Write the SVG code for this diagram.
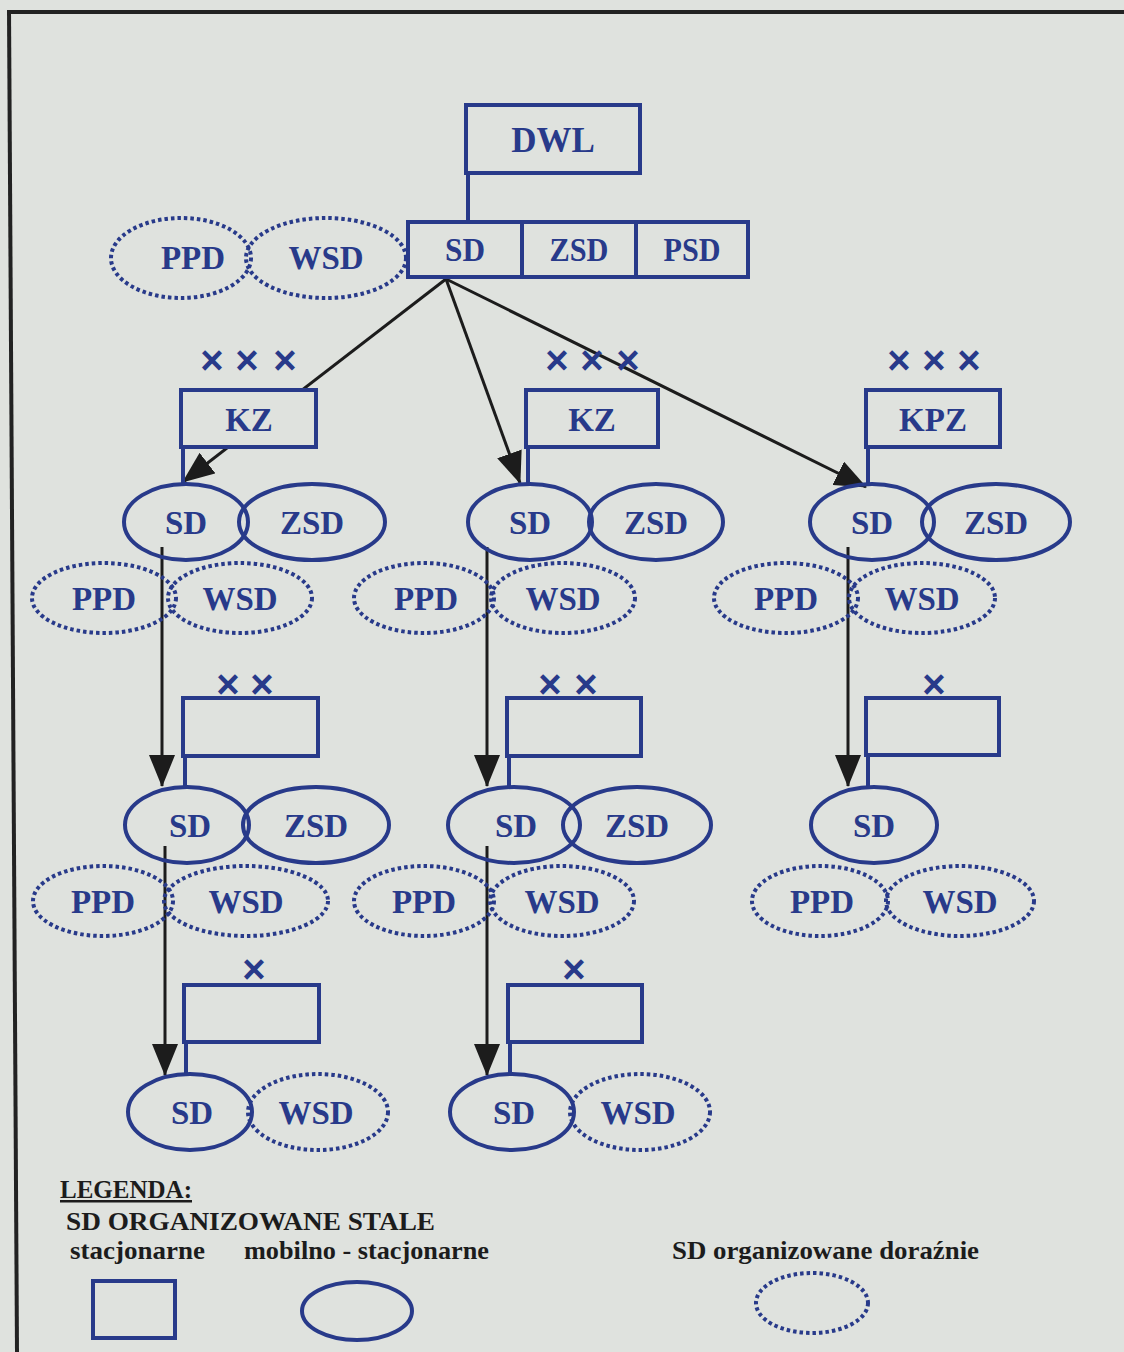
<svg xmlns="http://www.w3.org/2000/svg" width="1124" height="1352" viewBox="0 0 1124 1352">
<defs>
<marker id="ah" markerUnits="userSpaceOnUse" markerWidth="32" markerHeight="26" viewBox="0 0 32 26" refX="31" refY="13" orient="auto">
<path d="M0,0 L32,13 L0,26 Z" fill="#1c1c1c"/>
</marker>
<style>
.b{fill:none;stroke:#283a8a;stroke-width:4}
.r{fill:#dfe2de;stroke:#283a8a;stroke-width:4}
.d{fill:none;stroke:#283a8a;stroke-width:4;stroke-dasharray:3.5 3}
.t{font-family:"Liberation Serif",serif;font-weight:bold;font-size:33px;fill:#283a8a;text-anchor:middle}
.x{font-family:"Liberation Sans",sans-serif;font-weight:bold;font-size:40px;fill:#283a8a;text-anchor:middle}
.a{stroke:#1c1c1c;stroke-width:3;fill:none;marker-end:url(#ah)}
.lg{font-family:"Liberation Serif",serif;font-weight:bold;font-size:25px;fill:#1c1c1c}
</style>
</defs>
<rect x="0" y="0" width="1124" height="1352" fill="#dfe2de"/>
<g id="frame" stroke="#222" stroke-width="4" fill="none">
<line x1="7" y1="12" x2="1124" y2="12"/>
<line x1="9" y1="10" x2="17" y2="1352"/>
</g>

<g id="connectors">
<line class="a" x1="446" y1="279" x2="183" y2="482"/>
<line class="a" x1="446" y1="279" x2="520" y2="483"/>
<line class="a" x1="446" y1="279" x2="866" y2="487"/>
<line class="a" x1="162" y1="547" x2="162" y2="786"/>
<line class="a" x1="487" y1="547" x2="487" y2="786"/>
<line class="a" x1="848" y1="547" x2="848" y2="786"/>
<line class="a" x1="165" y1="846" x2="165" y2="1075"/>
<line class="a" x1="487" y1="846" x2="487" y2="1075"/>
</g>

<g id="dwl">
<rect class="r" x="466" y="105" width="174" height="68"/>
<line class="b" x1="468" y1="173" x2="468" y2="222"/>
<text class="t" x="553" y="152" style="font-size:35px">DWL</text>
</g>
<g id="top-row">
<rect class="r" x="408" y="222" width="340" height="55"/>
<line class="b" x1="522" y1="222" x2="522" y2="277"/>
<line class="b" x1="636" y1="222" x2="636" y2="277"/>
<text class="t" x="465" y="261" textLength="40" lengthAdjust="spacingAndGlyphs">SD</text>
<text class="t" x="579" y="261" textLength="59" lengthAdjust="spacingAndGlyphs">ZSD</text>
<text class="t" x="692" y="261" textLength="57" lengthAdjust="spacingAndGlyphs">PSD</text>
</g>
<g id="top-ppd">
<ellipse class="d" cx="181" cy="258" rx="70" ry="40"/>
<text class="t" x="193" y="269">PPD</text>
</g>
<g id="top-wsd">
<ellipse class="d" cx="326" cy="258" rx="80" ry="40"/>
<text class="t" x="326" y="269">WSD</text>
</g>

<g id="kz1">
<text class="x" x="212 247 285" y="374">×××</text>
<rect class="r" x="181" y="390" width="135" height="57"/>
<line class="b" x1="183" y1="447" x2="183" y2="484"/>
<text class="t" x="249" y="431">KZ</text>
<ellipse class="b" cx="186" cy="522" rx="62" ry="38"/>
<text class="t" x="186" y="534">SD</text>
<ellipse class="b" cx="312" cy="522" rx="73" ry="38"/>
<text class="t" x="312" y="534">ZSD</text>
<ellipse class="d" cx="104" cy="598" rx="72" ry="35"/>
<text class="t" x="104" y="610">PPD</text>
<ellipse class="d" cx="240" cy="598" rx="72" ry="35"/>
<text class="t" x="240" y="610">WSD</text>
</g>

<g id="kz2">
<text class="x" x="557 592 628" y="374">×××</text>
<rect class="r" x="526" y="390" width="132" height="57"/>
<line class="b" x1="528" y1="447" x2="528" y2="485"/>
<text class="t" x="592" y="431">KZ</text>
<ellipse class="b" cx="530" cy="522" rx="62" ry="38"/>
<text class="t" x="530" y="534">SD</text>
<ellipse class="b" cx="656" cy="522" rx="67" ry="38"/>
<text class="t" x="656" y="534">ZSD</text>
<ellipse class="d" cx="424" cy="598" rx="70" ry="35"/>
<text class="t" x="426" y="610">PPD</text>
<ellipse class="d" cx="563" cy="598" rx="72" ry="35"/>
<text class="t" x="563" y="610">WSD</text>
</g>

<g id="kpz">
<text class="x" x="899 934 969" y="374">×××</text>
<rect class="r" x="866" y="390" width="134" height="57"/>
<line class="b" x1="868" y1="447" x2="868" y2="486"/>
<text class="t" x="933" y="431">KPZ</text>
<ellipse class="b" cx="872" cy="522" rx="62" ry="38"/>
<text class="t" x="872" y="534">SD</text>
<ellipse class="b" cx="996" cy="522" rx="74" ry="38"/>
<text class="t" x="996" y="534">ZSD</text>
<ellipse class="d" cx="786" cy="598" rx="72" ry="35"/>
<text class="t" x="786" y="610">PPD</text>
<ellipse class="d" cx="922" cy="598" rx="73" ry="35"/>
<text class="t" x="922" y="610">WSD</text>
</g>

<g id="l3-left">
<text class="x" x="228 262" y="698">××</text>
<rect class="r" x="183" y="698" width="135" height="58"/>
<line class="b" x1="185" y1="756" x2="185" y2="787"/>
<ellipse class="b" cx="187" cy="825" rx="62" ry="38"/>
<text class="t" x="190" y="837">SD</text>
<ellipse class="b" cx="316" cy="825" rx="73" ry="38"/>
<text class="t" x="316" y="837">ZSD</text>
<ellipse class="d" cx="103" cy="901" rx="70" ry="35"/>
<text class="t" x="103" y="913">PPD</text>
<ellipse class="d" cx="246" cy="901" rx="82" ry="35"/>
<text class="t" x="246" y="913">WSD</text>
</g>

<g id="l3-mid">
<text class="x" x="550 586" y="698">××</text>
<rect class="r" x="507" y="698" width="134" height="58"/>
<line class="b" x1="509" y1="756" x2="509" y2="787"/>
<ellipse class="b" cx="514" cy="825" rx="66" ry="38"/>
<text class="t" x="516" y="837">SD</text>
<ellipse class="b" cx="637" cy="825" rx="74" ry="38"/>
<text class="t" x="637" y="837">ZSD</text>
<ellipse class="d" cx="424" cy="901" rx="70" ry="35"/>
<text class="t" x="424" y="913">PPD</text>
<ellipse class="d" cx="562" cy="901" rx="72" ry="35"/>
<text class="t" x="562" y="913">WSD</text>
</g>

<g id="l3-right">
<text class="x" x="934" y="698">×</text>
<rect class="r" x="866" y="698" width="133" height="57"/>
<line class="b" x1="868" y1="755" x2="868" y2="787"/>
<ellipse class="b" cx="874" cy="825" rx="63" ry="38"/>
<text class="t" x="874" y="837">SD</text>
<ellipse class="d" cx="820" cy="901" rx="68" ry="35"/>
<text class="t" x="822" y="913">PPD</text>
<ellipse class="d" cx="960" cy="901" rx="74" ry="35"/>
<text class="t" x="960" y="913">WSD</text>
</g>

<g id="l4-left">
<text class="x" x="254" y="983">×</text>
<rect class="r" x="184" y="985" width="135" height="57"/>
<line class="b" x1="186" y1="1042" x2="186" y2="1075"/>
<ellipse class="b" cx="190" cy="1112" rx="62" ry="38"/>
<text class="t" x="192" y="1124">SD</text>
<ellipse class="d" cx="318" cy="1112" rx="70" ry="38"/>
<text class="t" x="316" y="1124">WSD</text>
</g>

<g id="l4-mid">
<text class="x" x="574" y="983">×</text>
<rect class="r" x="508" y="985" width="134" height="57"/>
<line class="b" x1="510" y1="1042" x2="510" y2="1075"/>
<ellipse class="b" cx="512" cy="1112" rx="62" ry="38"/>
<text class="t" x="514" y="1124">SD</text>
<ellipse class="d" cx="640" cy="1112" rx="70" ry="38"/>
<text class="t" x="638" y="1124">WSD</text>
</g>

<g id="legend">
<text class="lg" x="60" y="1198" text-decoration="underline" textLength="132" lengthAdjust="spacingAndGlyphs">LEGENDA:</text>
<text class="lg" x="66" y="1230" textLength="369" lengthAdjust="spacingAndGlyphs">SD ORGANIZOWANE  STALE</text>
<text class="lg" x="70" y="1259" textLength="135" lengthAdjust="spacingAndGlyphs">stacjonarne</text>
<text class="lg" x="244" y="1259" textLength="245" lengthAdjust="spacingAndGlyphs">mobilno - stacjonarne</text>
<text class="lg" x="672" y="1259" textLength="307" lengthAdjust="spacingAndGlyphs">SD organizowane  doraźnie</text>
<rect class="b" x="93" y="1281" width="82" height="57"/>
<ellipse class="b" cx="357" cy="1311" rx="55" ry="29"/>
<ellipse class="d" cx="812" cy="1303" rx="56" ry="30"/>
</g>
</svg>
